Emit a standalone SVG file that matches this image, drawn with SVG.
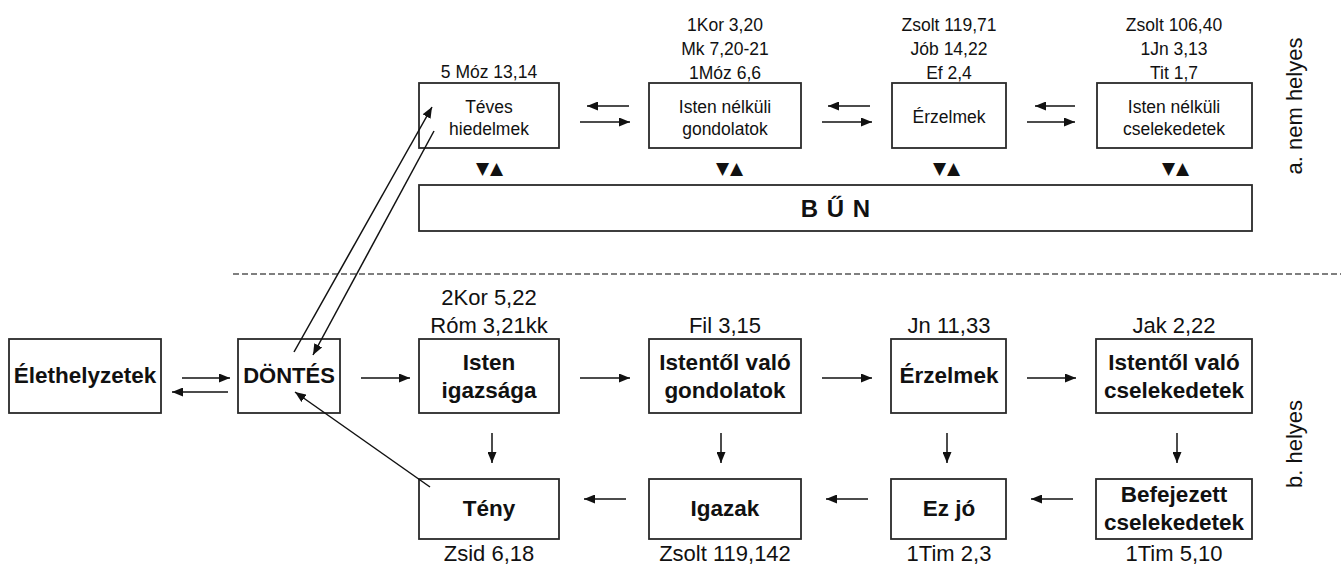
<svg xmlns="http://www.w3.org/2000/svg" width="1341" height="567" viewBox="0 0 1341 567">
<style>
text{font-family:"Liberation Sans",Arial,sans-serif;fill:#111}
.box{fill:#fff;stroke:#2a2a2a;stroke-width:1.8}
.t17{font-size:17.5px;text-anchor:middle}
.b22{font-size:22.5px;font-weight:bold;text-anchor:middle}
.n22{font-size:22px;text-anchor:middle}
.tri{font-family:"DejaVu Sans",sans-serif;font-size:17px;letter-spacing:1px}
.c line{stroke:#111;stroke-width:1.5;fill:none}
.c .a{marker-end:url(#ah)}
</style>
<defs>
<marker id="ah" markerUnits="userSpaceOnUse" markerWidth="11" markerHeight="9" refX="11" refY="4.5" orient="auto">
<path d="M0,0 L11,4.5 L0,9 z" fill="#111"/>
</marker>
</defs>

<line x1="233" y1="274" x2="1341" y2="274" stroke="#555" stroke-width="1.6" stroke-dasharray="6,3"/>

<g id="teves">
<text class="t17" x="489" y="78">5 Móz 13,14</text>
<rect class="box" x="419" y="83" width="140" height="65"/>
<text class="t17" x="489" y="113">Téves</text>
<text class="t17" x="489" y="135">hiedelmek</text>
<text class="tri" x="476" y="174">▼▲</text>
</g>
<g id="nelkuli-gondolatok">
<text class="t17" x="725" y="31">1Kor 3,20</text>
<text class="t17" x="725" y="55">Mk 7,20-21</text>
<text class="t17" x="725" y="79">1Móz 6,6</text>
<rect class="box" x="649" y="83" width="152" height="65"/>
<text class="t17" x="725" y="113">Isten nélküli</text>
<text class="t17" x="725" y="135">gondolatok</text>
<text class="tri" x="716" y="174">▼▲</text>
</g>
<g id="erzelmek-a">
<text class="t17" x="949" y="31">Zsolt 119,71</text>
<text class="t17" x="949" y="55">Jób 14,22</text>
<text class="t17" x="949" y="79">Ef 2,4</text>
<rect class="box" x="892" y="83" width="114" height="65"/>
<text class="t17" x="949" y="123">Érzelmek</text>
<text class="tri" x="933" y="174">▼▲</text>
</g>
<g id="nelkuli-cselekedetek">
<text class="t17" x="1174" y="31">Zsolt 106,40</text>
<text class="t17" x="1174" y="55">1Jn 3,13</text>
<text class="t17" x="1174" y="79">Tit 1,7</text>
<rect class="box" x="1097" y="83" width="155" height="65"/>
<text class="t17" x="1174" y="113">Isten nélküli</text>
<text class="t17" x="1174" y="135">cselekedetek</text>
<text class="tri" x="1162" y="174">▼▲</text>
</g>
<g id="bun">
<rect class="box" x="419" y="185" width="833" height="46"/>
<text x="836" y="217" style="font-size:24px;font-weight:bold;text-anchor:middle;letter-spacing:1px">B Ű N</text>
</g>
<g id="label-a">
<text transform="translate(1302,106) rotate(-90)" class="n22" x="0" y="0">a. nem helyes</text>
</g>
<g id="label-b">
<text transform="translate(1302,444) rotate(-90)" class="n22" x="0" y="0">b. helyes</text>
</g>

<g id="elethelyzetek">
<rect class="box" x="9" y="339" width="152" height="74"/>
<text class="b22" x="85" y="383">Élethelyzetek</text>
</g>
<g id="dontes">
<rect class="box" x="238" y="339" width="102" height="74"/>
<text class="b22" x="289" y="383" style="font-size:22px">DÖNTÉS</text>
</g>
<g id="isten-igazsaga">
<text class="n22" x="489" y="305">2Kor 5,22</text>
<text class="n22" x="489" y="333">Róm 3,21kk</text>
<rect class="box" x="419" y="339" width="140" height="74"/>
<text class="b22" x="489" y="370">Isten</text>
<text class="b22" x="489" y="398">igazsága</text>
</g>
<g id="istentol-gondolatok">
<text class="n22" x="725" y="333">Fil 3,15</text>
<rect class="box" x="649" y="339" width="152" height="74"/>
<text class="b22" x="725" y="370">Istentől való</text>
<text class="b22" x="725" y="398">gondolatok</text>
</g>
<g id="erzelmek-b">
<text class="n22" x="949" y="333">Jn 11,33</text>
<rect class="box" x="891" y="339" width="115" height="74"/>
<text class="b22" x="949" y="383">Érzelmek</text>
</g>
<g id="istentol-cselekedetek">
<text class="n22" x="1174" y="333">Jak 2,22</text>
<rect class="box" x="1096" y="339" width="156" height="74"/>
<text class="b22" x="1174" y="370">Istentől való</text>
<text class="b22" x="1174" y="398">cselekedetek</text>
</g>
<g id="teny">
<rect class="box" x="419" y="479" width="140" height="60"/>
<text class="b22" x="489" y="516">Tény</text>
<text class="n22" x="489" y="561">Zsid 6,18</text>
</g>
<g id="igazak">
<rect class="box" x="649" y="479" width="152" height="60"/>
<text class="b22" x="725" y="516">Igazak</text>
<text class="n22" x="725" y="561">Zsolt 119,142</text>
</g>
<g id="ez-jo">
<rect class="box" x="891" y="479" width="115" height="60"/>
<text class="b22" x="949" y="516">Ez jó</text>
<text class="n22" x="949" y="561">1Tim 2,3</text>
</g>
<g id="befejezett">
<rect class="box" x="1096" y="479" width="156" height="60"/>
<text class="b22" x="1174" y="502">Befejezett</text>
<text class="b22" x="1174" y="530">cselekedetek</text>
<text class="n22" x="1174" y="561">1Tim 5,10</text>
</g>

<g id="connectors" class="c">
<line class="a" x1="629" y1="106" x2="587" y2="106"/>
<line class="a" x1="580" y1="122" x2="630" y2="122"/>
<line class="a" x1="870" y1="106" x2="828" y2="106"/>
<line class="a" x1="822" y1="122" x2="872" y2="122"/>
<line class="a" x1="1075" y1="106" x2="1035" y2="106"/>
<line class="a" x1="1027" y1="122" x2="1075" y2="122"/>

<line class="a" x1="182" y1="378" x2="230" y2="378"/>
<line class="a" x1="228" y1="392" x2="172" y2="392"/>
<line class="a" x1="361" y1="378" x2="410" y2="378"/>
<line class="a" x1="580" y1="378" x2="630" y2="378"/>
<line class="a" x1="822" y1="378" x2="872" y2="378"/>
<line class="a" x1="1027" y1="378" x2="1076" y2="378"/>

<line class="a" x1="492" y1="433" x2="492" y2="463"/>
<line class="a" x1="721" y1="433" x2="721" y2="463"/>
<line class="a" x1="947" y1="433" x2="947" y2="463"/>
<line class="a" x1="1177" y1="433" x2="1177" y2="463"/>

<line class="a" x1="626" y1="499" x2="584" y2="499"/>
<line class="a" x1="868" y1="499" x2="826" y2="499"/>
<line class="a" x1="1073" y1="499" x2="1031" y2="499"/>

<line class="a" x1="430" y1="487" x2="295" y2="392"/>
<line class="a" x1="294" y1="352" x2="432" y2="107"/>
<line class="a" x1="434" y1="131" x2="313" y2="355"/>
</g>
</svg>
